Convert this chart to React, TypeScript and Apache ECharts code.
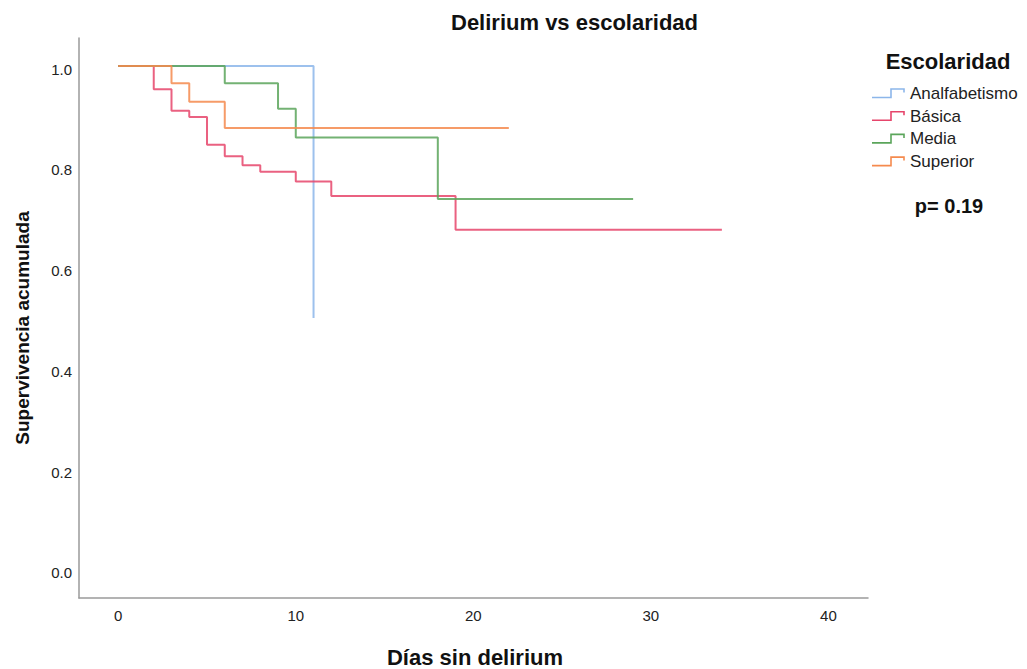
import React, { useEffect, useRef } from "react";
import * as echarts from "echarts";

const chartTitle = "Delirium vs escolaridad";
const xAxisTitle = "Días sin delirium";
const yAxisTitle = "Supervivencia acumulada";
const legendTitle = "Escolaridad";
const pValueText = "p= 0.19";

const groupNames = ["Analfabetismo", "Básica", "Media", "Superior"];
const groupColors = ["#8cb6ea", "#e6456b", "#5ba55b", "#f58a4e"];

const daysAnalfabetismo = [0, 11];
const survAnalfabetismo = [1, 0.5];
const daysBasica = [0, 2, 3, 4, 5, 6, 7, 8, 10, 12, 19, 34];
const survBasica = [1, 0.954, 0.911, 0.899, 0.844, 0.821, 0.803, 0.79, 0.771, 0.742, 0.675, 0.675];
const daysMedia = [0, 6, 9, 10, 18, 29];
const survMedia = [1, 0.966, 0.915, 0.858, 0.736, 0.736];
const daysSuperior = [0, 3, 4, 6, 22];
const survSuperior = [1, 0.966, 0.929, 0.877, 0.877];

const xTicks = [0, 10, 20, 30, 40];
const yTicks = [0, 0.2, 0.4, 0.6, 0.8, 1.0];

const groupDays = [daysAnalfabetismo, daysBasica, daysMedia, daysSuperior];
const groupSurv = [survAnalfabetismo, survBasica, survMedia, survSuperior];

const FONT = "'Liberation Sans', Arial, sans-serif";

export default function App() {
  const ref = useRef<HTMLDivElement>(null);
  useEffect(() => {
    if (!ref.current) return;
    const chart = echarts.init(ref.current, null, { renderer: "svg" });

    const series = groupNames.map((name, i) => ({
      name,
      type: "line",
      step: "end",
      symbol: "none",
      z: 2 + i,
      data: groupDays[i].map((d, j) => [d, groupSurv[i][j]]),
      lineStyle: { color: groupColors[i], width: 2, opacity: 0.85 },
      itemStyle: { color: groupColors[i] },
    }));

    const legendY0 = 93.5;
    const legendStep = 22.7;
    const legendGraphics: any[] = [];
    groupNames.forEach((name, i) => {
      const y = legendY0 + i * legendStep;
      legendGraphics.push({
        type: "polyline",
        shape: {
          points: [
            [872, y + 4],
            [891, y + 4],
            [891, y - 4.5],
            [904, y - 4.5],
            [904, y - 1],
          ],
        },
        style: { stroke: groupColors[i], lineWidth: 1.6, fill: null },
      });
      legendGraphics.push({
        type: "text",
        x: 910,
        y,
        style: {
          text: name,
          font: `17px ${FONT}`,
          fill: "#222",
          textAlign: "left",
          textVerticalAlign: "middle",
        },
      });
    });

    chart.setOption({
      animation: false,
      backgroundColor: "#ffffff",
      grid: { left: 79, top: 38, width: 789, height: 560, containLabel: false },
      xAxis: {
        type: "value",
        min: -2.21,
        max: 42.23,
        axisLine: { show: true, onZero: false, lineStyle: { color: "#9a9a9a", width: 1.5 } },
        axisTick: { show: false },
        splitLine: { show: false },
        axisLabel: {
          customValues: xTicks,
          fontSize: 15,
          fontFamily: FONT,
          color: "#222",
          margin: 10,
        },
      },
      yAxis: {
        type: "value",
        min: -0.0556,
        max: 1.0556,
        axisLine: { show: true, onZero: false, lineStyle: { color: "#9a9a9a", width: 1.5 } },
        axisTick: { show: false },
        splitLine: { show: false },
        axisLabel: {
          customValues: yTicks,
          fontSize: 15,
          fontFamily: FONT,
          color: "#222",
          margin: 7,
          formatter: (v: number) => `{v|${v.toFixed(1)}}`,
          rich: {
            v: { fontSize: 15, fontFamily: FONT, color: "#222", padding: [6, 0, 0, 0] },
          },
        },
      },
      series,
      graphic: [
        {
          type: "text",
          x: 574.5,
          y: 22,
          style: {
            text: chartTitle,
            font: `bold 22px ${FONT}`,
            fill: "#111",
            textAlign: "center",
            textVerticalAlign: "middle",
          },
        },
        {
          type: "text",
          x: 475,
          y: 657,
          style: {
            text: xAxisTitle,
            font: `bold 22px ${FONT}`,
            fill: "#111",
            textAlign: "center",
            textVerticalAlign: "middle",
          },
        },
        {
          type: "text",
          x: 22,
          y: 328,
          rotation: Math.PI / 2,
          style: {
            text: yAxisTitle,
            font: `bold 19px ${FONT}`,
            fill: "#111",
            textAlign: "center",
            textVerticalAlign: "middle",
          },
        },
        {
          type: "text",
          x: 948,
          y: 61,
          style: {
            text: legendTitle,
            font: `bold 22px ${FONT}`,
            fill: "#111",
            textAlign: "center",
            textVerticalAlign: "middle",
          },
        },
        ...legendGraphics,
        {
          type: "text",
          x: 949,
          y: 206,
          style: {
            text: pValueText,
            font: `bold 20px ${FONT}`,
            fill: "#111",
            textAlign: "center",
            textVerticalAlign: "middle",
          },
        },
      ],
    });
    return () => chart.dispose();
  }, []);
  return (
    <div
      ref={ref}
      style={{ position: "fixed", left: 0, top: 0, width: 1027, height: 669, background: "#fff" }}
    />
  );
}
